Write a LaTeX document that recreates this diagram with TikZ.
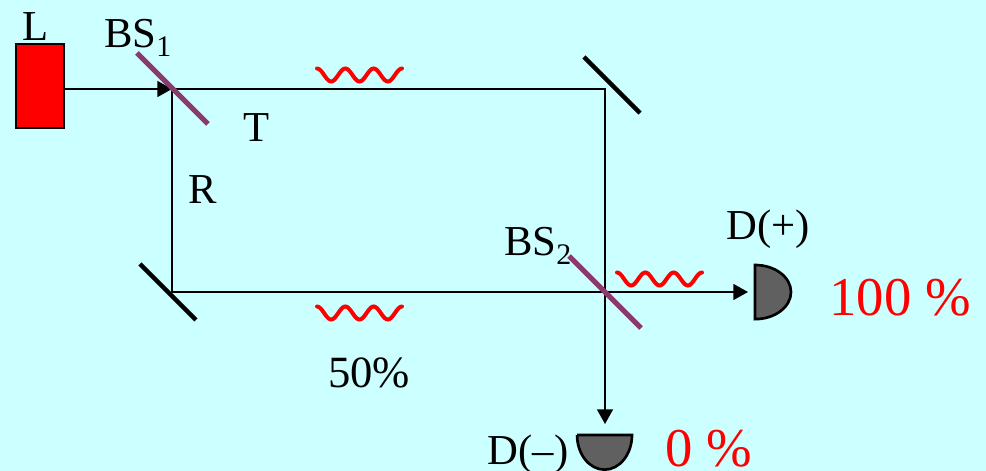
\documentclass[tikz,border=0pt]{standalone}
\usepackage{fontspec}
\setmainfont{Liberation Serif}
\usepackage{tikz}
\usetikzlibrary{arrows.meta}

\definecolor{bgcyan}{HTML}{CCFFFF}
\definecolor{bsplum}{HTML}{8B3A6E}
\definecolor{detgray}{HTML}{606060}

\tikzset{
  beam/.style={black,line width=1.2pt},
  beamtip/.style={beam,-{Triangle[length=11pt,width=12pt]}},
  mirror/.style={black,line width=3.2pt},
  splitter/.style={bsplum,line width=3.8pt},
  detector/.style={draw=black,fill=detgray,line width=2pt},
  wiggle/.style={red,line width=3pt,line cap=round},
  lbl/.style={inner sep=0pt,font=\fontsize{32}{32}\selectfont},
  pct/.style={inner sep=0pt,red,font=\fontsize{41}{41}\selectfont},
}

\begin{document}
\begin{tikzpicture}[x=0.75pt,y=0.75pt]
  \useasboundingbox (0,0) rectangle (986,471);
  \clip (0,0) rectangle (986,471);
  \path[fill=bgcyan] (0,0) rectangle (986,471);

  \coordinate (BS1) at (172,382);
  \coordinate (BS2) at (605,179);
  \coordinate (M1) at (605,382);
  \coordinate (M2) at (172,179);
  \coordinate (Dplus) at (748,179);
  \coordinate (Dminus) at (605,47);

  \node[draw=black,fill=red,line width=1.5pt,minimum width=36pt,minimum height=63pt,inner sep=0pt] (laser) at (40,385) {};

  \draw[beamtip] (laser.east |- BS1) -- (BS1);
  \draw[beam] (BS1) -- (M1) -- (BS2);
  \draw[beam] (BS1) -- (M2) -- (BS2);
  \draw[beamtip] (BS2) -- (Dplus);
  \draw[beamtip] (BS2) -- (Dminus);

  \draw[mirror] (584,414) -- (640,358);
  \draw[mirror] (140,207) -- (196,151);
  \draw[splitter] (137,418) -- (208,347);
  \draw[splitter] (569,215) -- (641,143);

  % three wave packets
  \foreach \wx/\wy in {317/396, 317/158, 617/192}
    \draw[wiggle,shift={(\wx,\wy)}] plot[domain=0:85,samples=61,smooth] (\x,{6.5*cos(\x*12.706)});

  \draw[detector] (755,206) arc[start angle=90,end angle=-90,x radius=27pt,y radius=20.3pt] -- cycle;
  \draw[detector] (577,36) -- (632,36) arc[start angle=0,end angle=-180,x radius=20.6pt,y radius=26pt] -- cycle;

  \node[lbl] (Llabel) at (36,444) {L};
  \node[lbl,anchor=base west] (BSa) at (104,423) {BS\textsubscript{1}};
  \node[lbl] (Tlabel) at (257,343) {T};
  \node[lbl] (Rlabel) at (203,281) {R};
  \node[lbl,font=\fontsize{33.5}{33.5}\selectfont] (half) at (369,98) {50\%};
  \node[lbl,anchor=base west] (BSb) at (504,215) {BS\textsubscript{2}};
  \node[lbl,anchor=base] (Dp) at (768,231) {D(+)};
  \node[lbl,anchor=base] (Dm) at (528,6) {D(–)};
  \node[pct,anchor=base] (full) at (900,155) {100 \%};
  \node[pct,anchor=base] (none) at (709,4) {0 \%};
\end{tikzpicture}
\end{document}
